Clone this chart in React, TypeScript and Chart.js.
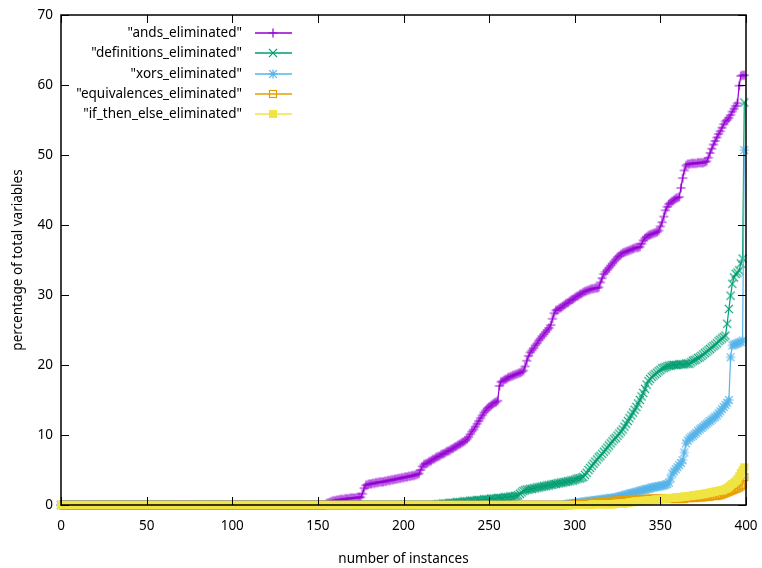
import React, { useEffect, useRef } from 'react';
import { Chart, registerables } from 'chart.js';

Chart.register(...registerables);

// Series names as shown in the key (quoted, as gnuplot prints file columns)
const seriesNames = [
  '"ands_eliminated"',
  '"definitions_eliminated"',
  '"xors_eliminated"',
  '"equivalences_eliminated"',
  '"if_then_else_eliminated"',
];
const seriesColors = ['#9400d3', '#009e73', '#56b4e9', '#e69f00', '#f0e442'];

// Axis tick values
const xTickValues = [0, 50, 100, 150, 200, 250, 300, 350, 400];
const yTickValues = [0, 10, 20, 30, 40, 50, 60, 70];

// Percentage of variables eliminated per instance (instances sorted by value)
const andsEliminated = [
  ...Array(155).fill(0),
  0.2, 0.3, 0.4, 0.5, 0.6, 0.6, 0.7, 0.7, 0.8, 0.8, 0.8, 0.9, 0.9, 0.9, 1.0, 1.0, 1.0, 1.0, 1.1, 1.1, 1.1,
  1.6, 2.4, 2.8,
  2.9, 3.0, 3.0, 3.1, 3.1, 3.2, 3.2, 3.3, 3.3, 3.3, 3.4, 3.4, 3.5, 3.5, 3.6, 3.6, 3.7, 3.7, 3.8, 3.8,
  3.9, 3.9, 4.0, 4.0, 4.1, 4.1, 4.2, 4.2, 4.3, 4.4,
  4.5, 5.0, 5.5, 5.8,
  5.9, 6.0, 6.2, 6.3, 6.5, 6.6, 6.8, 6.9, 7.0, 7.2, 7.3, 7.4, 7.6, 7.7, 7.8, 8.0, 8.1, 8.3, 8.4, 8.6,
  8.7, 8.9, 9.0, 9.2,
  9.4, 9.7, 10.1, 10.5, 10.8, 11.2, 11.6, 12.0, 12.4, 12.8, 13.2, 13.5, 13.8, 14.0, 14.2, 14.4, 14.6, 14.7, 14.9,
  17.0, 17.6,
  17.7, 17.9, 18.0, 18.2, 18.3, 18.4, 18.5, 18.6, 18.7, 18.8, 18.9, 19.0, 19.2,
  19.8, 20.6, 21.3, 21.8,
  22.1, 22.4, 22.8, 23.1, 23.5, 23.8, 24.1, 24.4, 24.7, 25.0, 25.3, 25.7,
  26.6, 27.4, 27.8,
  27.9, 28.1, 28.2, 28.4, 28.6, 28.8, 28.9, 29.1, 29.3, 29.4, 29.6, 29.8, 29.9, 30.1, 30.2, 30.4, 30.5, 30.6,
  30.7, 30.8, 30.9, 30.9, 31.0, 31.0, 31.1,
  31.8, 32.4, 33.0, 33.3, 33.6, 33.9, 34.2, 34.5, 34.8, 35.1, 35.4, 35.6, 35.8, 36.0,
  36.1, 36.2, 36.3, 36.4, 36.5, 36.6, 36.7, 36.8, 36.8, 36.9,
  37.3, 37.8, 38.1, 38.3, 38.5, 38.6, 38.7, 38.8, 38.9, 39.0, 39.2,
  39.8, 40.4, 41.2, 42.1,
  42.6, 43.0, 43.2, 43.4, 43.6, 43.8, 43.9, 44.0,
  45.3, 46.7, 47.8, 48.5,
  48.7, 48.7, 48.8, 48.8, 48.8, 48.8, 48.9, 48.9, 48.9, 48.9, 49.0, 49.1,
  49.6, 50.3, 50.9, 51.5, 52.0, 52.5, 53.0, 53.4, 53.9, 54.4, 54.8, 55.0, 55.3, 55.7, 56.2, 56.6, 57.0, 57.4,
  59.9, 61.3, 61.4, 61.4,
];

const definitionsEliminated = [
  ...Array(220).fill(0),
  0.1, 0.1, 0.1, 0.2, 0.2, 0.2, 0.2, 0.3, 0.3, 0.3, 0.3, 0.4, 0.4, 0.4, 0.4, 0.5, 0.5, 0.5, 0.5, 0.6,
  0.6, 0.6, 0.6, 0.7, 0.7, 0.7, 0.7, 0.8, 0.8, 0.8, 0.8, 0.9, 0.9, 0.9, 0.9, 1.0, 1.0, 1.0, 1.0, 1.1,
  1.1, 1.1, 1.2, 1.2, 1.2, 1.3, 1.3, 1.4,
  1.6, 1.8, 2.0, 2.1,
  2.2, 2.2, 2.3, 2.3, 2.4, 2.4, 2.5, 2.5, 2.6, 2.6, 2.7, 2.7, 2.8, 2.8, 2.9, 2.9, 3.0, 3.0, 3.1, 3.1,
  3.2, 3.2, 3.3, 3.3, 3.4, 3.4, 3.5, 3.5, 3.6, 3.7, 3.8, 3.8, 3.9, 4.0,
  4.3, 4.6, 5.0, 5.3, 5.6, 5.9, 6.2, 6.5, 6.8, 7.0,
  7.3, 7.6, 7.9, 8.2, 8.5, 8.8, 9.1, 9.4, 9.6, 9.9, 10.2, 10.5, 10.8, 11.2, 11.6, 12.0, 12.4, 12.8, 13.2, 13.6,
  14.0, 14.5, 15.0, 15.5, 16.0, 16.6,
  17.2, 17.7, 18.0, 18.3,
  18.5, 18.7, 18.9, 19.1, 19.3, 19.5, 19.6, 19.7, 19.8, 19.9, 19.9, 20.0,
  20.0, 20.0, 20.0, 20.1, 20.1, 20.1, 20.1, 20.2, 20.2, 20.2,
  20.4, 20.6, 20.7, 20.8, 21.0, 21.1,
  21.3, 21.5, 21.7, 21.9, 22.1, 22.3, 22.5, 22.7, 22.9, 23.1,
  23.4, 23.6, 23.8, 24.0, 24.2,
  25.9, 28.0, 29.9, 31.6, 32.5, 33.0, 33.2, 33.5, 34.5, 35.2, 57.5,
];

const xorsEliminated = [
  ...Array(295).fill(0),
  0.1, 0.1, 0.2, 0.2, 0.2, 0.3, 0.3, 0.3, 0.4, 0.4, 0.4, 0.5, 0.5, 0.5, 0.6, 0.6, 0.6, 0.7, 0.7, 0.7,
  0.8, 0.8, 0.8, 0.9, 0.9, 0.9, 1.0, 1.0, 1.0, 1.1, 1.1,
  1.2, 1.3, 1.3, 1.4, 1.5, 1.5, 1.6, 1.7, 1.7, 1.8, 1.9, 1.9, 2.0, 2.1, 2.1, 2.2, 2.3, 2.3, 2.4, 2.5,
  2.5, 2.6, 2.6, 2.7, 2.7, 2.8, 2.8, 2.9, 3.0,
  3.2, 3.8, 4.5, 4.8, 5.1, 5.4, 5.7, 6.0, 6.4, 7.5, 8.8,
  9.2, 9.5, 9.7, 9.9, 10.1, 10.3, 10.6,
  10.8, 11.0, 11.2, 11.4, 11.6, 11.8, 12.0, 12.2, 12.4, 12.6,
  12.8, 13.1, 13.4, 13.7, 14.0, 14.3, 14.6, 15.0,
  21.1, 22.8, 22.9, 23.0, 23.1, 23.2, 23.3, 23.5, 50.7,
];

const equivalencesEliminated = [
  ...Array(300).fill(0),
  0.1, 0.1, 0.1, 0.1, 0.2, 0.2, 0.2, 0.2, 0.2, 0.3, 0.3, 0.3, 0.3, 0.3, 0.4, 0.4, 0.4, 0.4, 0.4, 0.5,
  0.5, 0.5, 0.5, 0.6, 0.6, 0.6,
  0.7, 0.7, 0.7, 0.7, 0.7, 0.7, 0.7, 0.8, 0.8, 0.8, 0.8, 0.8, 0.8, 0.8, 0.8, 0.8, 0.8, 0.9, 0.9, 0.9,
  0.9, 0.9, 0.9, 0.9, 0.9, 0.9, 0.9, 0.9, 0.9, 0.9, 0.9, 0.9, 0.9, 0.9, 0.9,
  0.9, 0.9, 0.9, 0.9, 1.0, 1.0, 1.0, 1.0, 1.0, 1.0, 1.1, 1.1, 1.1, 1.1, 1.1, 1.2, 1.2, 1.2, 1.2, 1.3,
  1.3, 1.3, 1.3, 1.4, 1.4,
  1.5, 1.6, 1.7, 1.8, 1.9, 2.0, 2.1, 2.2, 2.3, 2.4, 2.5, 2.7, 2.9, 4.0,
];

const ifThenElseEliminated = [
  ...Array(300).fill(0),
  0.0, 0.0, 0.0, 0.0, 0.0, 0.0, 0.0, 0.0, 0.0, 0.0, 0.1, 0.1, 0.1, 0.1, 0.1, 0.1, 0.1, 0.1, 0.1, 0.1,
  0.1, 0.1, 0.1, 0.1, 0.2, 0.2, 0.2, 0.2, 0.2, 0.2,
  0.3, 0.3, 0.4, 0.4, 0.4, 0.5, 0.5, 0.5, 0.5, 0.6, 0.6, 0.6, 0.6, 0.7, 0.7, 0.7,
  0.7, 0.8, 0.8, 0.8, 0.8, 0.9, 0.9, 0.9, 0.9, 1.0, 1.0, 1.0, 1.0, 1.1, 1.1, 1.1, 1.1, 1.2, 1.2, 1.2,
  1.3, 1.3, 1.3, 1.4, 1.4, 1.4, 1.5, 1.5, 1.5, 1.6, 1.6, 1.7, 1.7, 1.8, 1.8,
  1.9, 1.9, 2.0, 2.0, 2.1, 2.1, 2.2, 2.3, 2.4, 2.6,
  2.8, 3.0, 3.2, 3.4, 3.7, 4.1,
  4.6, 5.0, 5.4,
];

const seriesValues = [
  andsEliminated,
  definitionsEliminated,
  xorsEliminated,
  equivalencesEliminated,
  ifThenElseEliminated,
];

type Marker = 'plus' | 'cross' | 'star' | 'box' | 'boxFilled';
const seriesMarkers: Marker[] = ['plus', 'cross', 'star', 'box', 'boxFilled'];

const FONT = '"Noto Sans", "DejaVu Sans", sans-serif';
const FONT_SIZE = 13.5;
const MARK = 4.5; // half-size of every point symbol, in px

// Draws one gnuplot-style point symbol on a canvas context
function drawMarker(ctx: CanvasRenderingContext2D, kind: Marker, x: number, y: number, color: string) {
  const h = MARK;
  ctx.save();
  ctx.strokeStyle = color;
  ctx.fillStyle = color;
  ctx.lineWidth = 1.2;
  ctx.beginPath();
  if (kind === 'plus' || kind === 'star') {
    ctx.moveTo(x - h, y);
    ctx.lineTo(x + h, y);
    ctx.moveTo(x, y - h);
    ctx.lineTo(x, y + h);
  }
  if (kind === 'cross' || kind === 'star') {
    const d = kind === 'star' ? h * 0.85 : h * 0.9;
    ctx.moveTo(x - d, y - d);
    ctx.lineTo(x + d, y + d);
    ctx.moveTo(x - d, y + d);
    ctx.lineTo(x + d, y - d);
  }
  ctx.stroke();
  if (kind === 'box') {
    ctx.strokeRect(x - 3.5, y - 3.5, 7, 7);
  } else if (kind === 'boxFilled') {
    ctx.fillRect(x - 4, y - 4, 8, 8);
  }
  ctx.restore();
}

// Point symbols as small canvases so Chart.js can stamp them on each point
function markerImage(kind: Marker, color: string): HTMLCanvasElement {
  const c = document.createElement('canvas');
  c.width = 14;
  c.height = 14;
  const cx = c.getContext('2d')!;
  drawMarker(cx, kind, 7, 7, color);
  return c;
}

const markerImages = seriesMarkers.map((m, i) => markerImage(m, seriesColors[i]));

const framePlugin = {
  id: 'gnuplotFrame',
  afterDatasetsDraw(chart: any) {
    const { ctx, chartArea: a, scales } = chart;
    const xs = scales.x;
    const ys = scales.y;
    const tick = 8;
    ctx.save();
    ctx.strokeStyle = '#000';
    ctx.lineWidth = 1;
    ctx.beginPath();
    for (const v of xTickValues) {
      const px = Math.round(xs.getPixelForValue(v)) + 0.5;
      ctx.moveTo(px, a.bottom);
      ctx.lineTo(px, a.bottom - tick);
      ctx.moveTo(px, a.top);
      ctx.lineTo(px, a.top + tick);
    }
    for (const v of yTickValues) {
      const py = Math.round(ys.getPixelForValue(v)) + 0.5;
      ctx.moveTo(a.left, py);
      ctx.lineTo(a.left + tick, py);
      ctx.moveTo(a.right, py);
      ctx.lineTo(a.right - tick, py);
    }
    ctx.stroke();
    ctx.lineWidth = 1.5;
    ctx.strokeRect(a.left, a.top, a.right - a.left, a.bottom - a.top);
    ctx.restore();
  },
};

const keyPlugin = {
  id: 'gnuplotKey',
  afterDraw(chart: any) {
    const { ctx } = chart;
    const textRight = 242;
    const lineStart = 255;
    const lineEnd = 292;
    const top = 33;
    const step = 20.3;
    ctx.save();
    ctx.font = `${FONT_SIZE}px ${FONT}`;
    ctx.textAlign = 'right';
    ctx.textBaseline = 'middle';
    seriesNames.forEach((name, i) => {
      const y = Math.round(top + i * step);
      ctx.fillStyle = '#000';
      ctx.fillText(name, textRight, y);
      ctx.strokeStyle = seriesColors[i];
      ctx.lineWidth = 1.6;
      ctx.beginPath();
      ctx.moveTo(lineStart, y);
      ctx.lineTo(lineEnd, y);
      ctx.stroke();
      ctx.drawImage(markerImages[i], 273 - 7, y - 7);
    });
    ctx.restore();
  },
};

// Keep the plot frame where it is, regardless of tick label overhang
const pinScale = (size: 'width' | 'height', value: number) => (s: any) => {
  s[size] = value;
  s.paddingLeft = 0;
  s.paddingRight = 0;
  s.paddingTop = 0;
  s.paddingBottom = 0;
};

export default function App() {
  const canvasRef = useRef<HTMLCanvasElement | null>(null);

  useEffect(() => {
    const canvas = canvasRef.current;
    if (!canvas) return;

    const datasets = seriesValues.map((values, i) => ({
      label: seriesNames[i],
      data: values.map((v, k) => ({ x: k, y: v })),
      borderColor: seriesColors[i],
      backgroundColor: seriesColors[i],
      borderWidth: 1.2,
      pointStyle: markerImages[i],
      pointRadius: 5,
      pointHoverRadius: 5,
      tension: 0,
      clip: false as const,
      order: seriesValues.length - i,
    }));

    const tickFont = { family: FONT, size: FONT_SIZE };

    const chart = new Chart(canvas, {
      type: 'line',
      data: { datasets },
      plugins: [framePlugin, keyPlugin],
      options: {
        animation: false,
        responsive: false,
        events: [],
        layout: { padding: { left: 0, top: 15, right: 16, bottom: 0 } },
        plugins: {
          legend: { display: false },
          tooltip: { enabled: false },
        },
        scales: {
          x: {
            type: 'linear',
            min: 0,
            max: 400,
            grid: { display: false, drawTicks: false, tickLength: 0 },
            border: { display: false },
            afterBuildTicks: (s: any) => {
              s.ticks = xTickValues.map((v) => ({ value: v }));
            },
            afterFit: pinScale('height', 63),
            ticks: {
              padding: 13,
              color: '#000',
              font: tickFont,
              maxRotation: 0,
            },
            title: {
              display: true,
              text: 'number of instances',
              color: '#000',
              font: tickFont,
              padding: { top: 0, bottom: 1 },
            },
          },
          y: {
            type: 'linear',
            min: 0,
            max: 70,
            grid: { display: false, drawTicks: false, tickLength: 0 },
            border: { display: false },
            afterBuildTicks: (s: any) => {
              s.ticks = yTickValues.map((v) => ({ value: v }));
            },
            afterFit: pinScale('width', 61),
            ticks: {
              padding: 8,
              color: '#000',
              font: tickFont,
            },
            title: {
              display: true,
              text: 'percentage of total variables',
              color: '#000',
              font: tickFont,
              padding: { top: 10, bottom: 0 },
            },
          },
        },
      },
    });

    return () => chart.destroy();
  }, []);

  return (
    <div style={{ position: 'fixed', left: 0, top: 0, width: 762, height: 568, background: '#fff' }}>
      <canvas ref={canvasRef} width={762} height={568} style={{ display: 'block' }} />
    </div>
  );
}
